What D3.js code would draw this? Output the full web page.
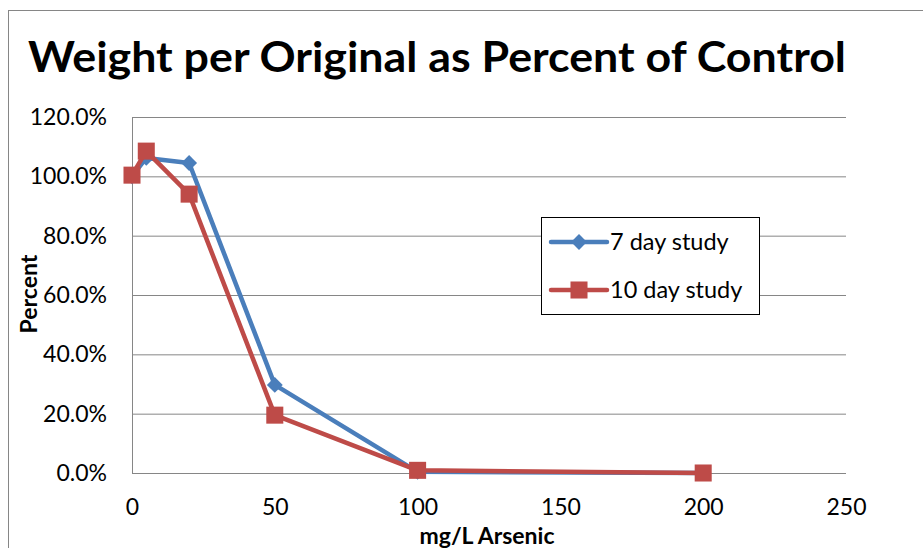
<!DOCTYPE html>
<html>
<head>
<meta charset="utf-8">
<script src="https://cdn.jsdelivr.net/npm/d3@7"></script>
<style>
  body { margin: 0; background: #fff; }
  svg { display: block; font-family: Lato, "Open Sans", sans-serif; }
</style>
</head>
<body>
<script>
// data
var doses = [0, 5, 20, 50, 100, 200];
var day7 = [1.00, 1.062, 1.045, 0.297, 0.004, 0.0];
var day10 = [1.004, 1.085, 0.94, 0.195, 0.009, 0.0];
var seriesNames = ["7 day study", "10 day study"];
var xTicks = [0, 50, 100, 150, 200, 250];
var yTicks = [0, 0.2, 0.4, 0.6, 0.8, 1.0, 1.2];

var W = 923, H = 548;
var margin = {top: 117, right: 77, bottom: 75, left: 132},
    width = W - margin.left - margin.right,
    height = H - margin.top - margin.bottom;

var svg = d3.select("body").append("svg")
    .attr("width", W)
    .attr("height", H);

// outer chart border
svg.append("rect")
    .attr("x", 8.5).attr("y", 10.5)
    .attr("width", 1000).attr("height", 1000)
    .attr("fill", "none")
    .attr("stroke", "#868686");

svg.append("text")
    .attr("x", 28)
    .attr("y", 72)
    .attr("font-size", "42px")
    .attr("font-weight", "bold")
    .attr("textLength", 818)
    .attr("lengthAdjust", "spacingAndGlyphs")
    .text("Weight per Original as Percent of Control");

var g = svg.append("g")
    .attr("transform", "translate(" + margin.left + "," + margin.top + ")");

var x = d3.scaleLinear().domain([0, 250]).range([0, width]);
var y = d3.scaleLinear().domain([0, 1.2]).range([height, 0]);

// gridlines + y labels
var yAxis = g.append("g")
    .call(d3.axisLeft(y)
        .tickValues(yTicks)
        .tickSize(-width)
        .tickPadding(25)
        .tickFormat(d3.format(".1%")));
yAxis.select(".domain").remove();
yAxis.selectAll("line").attr("stroke", "#868686");
yAxis.selectAll("text").attr("font-size", "23px").attr("fill", "#000")
    .attr("font-family", "Lato, sans-serif");

// left axis line
g.append("line")
    .attr("x1", 0.5).attr("x2", 0.5)
    .attr("y1", 0).attr("y2", height)
    .attr("stroke", "#868686");

var xAxis = g.append("g")
    .attr("transform", "translate(0," + height + ")")
    .call(d3.axisBottom(x)
        .tickValues(xTicks)
        .tickSize(0)
        .tickPadding(26));
xAxis.select(".domain").remove();
xAxis.selectAll("text").attr("font-size", "23px").attr("fill", "#000")
    .attr("font-family", "Lato, sans-serif");

svg.append("text")
    .attr("x", 487)
    .attr("y", 544)
    .attr("text-anchor", "middle")
    .attr("font-size", "23px")
    .attr("font-weight", "bold")
    .text("mg/L Arsenic");

svg.append("text")
    .attr("transform", "translate(37,294) rotate(-90)")
    .attr("text-anchor", "middle")
    .attr("font-size", "23px")
    .attr("font-weight", "bold")
    .text("Percent");

var colors = ["#4A7EBB", "#BE4B48"];
var line = d3.line()
    .x(function(d) { return x(d[0]); })
    .y(function(d) { return y(d[1]); });

var diamond = d3.symbol().type(d3.symbolDiamond2).size(160);
var square = d3.symbol().type(d3.symbolSquare).size(290);
var shapes = [diamond, square];

[day7, day10].forEach(function(vals, k) {
    var pts = doses.map(function(d, i) { return [d, vals[i]]; });
    g.append("path")
        .datum(pts)
        .attr("fill", "none")
        .attr("stroke", colors[k])
        .attr("stroke-width", 4.5)
        .attr("stroke-linejoin", "round")
        .attr("d", line);
    g.selectAll(".m" + k)
        .data(pts)
        .enter().append("path")
        .attr("class", "m" + k)
        .attr("transform", function(d) { return "translate(" + x(d[0]) + "," + y(d[1]) + ")"; })
        .attr("d", shapes[k])
        .attr("fill", colors[k]);
});

// legend
var lg = svg.append("g").attr("transform", "translate(541,217)");
lg.append("rect")
    .attr("x", 0.5).attr("y", 0.5)
    .attr("width", 218).attr("height", 97)
    .attr("fill", "#fff")
    .attr("stroke", "#000");
seriesNames.forEach(function(name, k) {
    var ly = 25 + k * 48;
    lg.append("line")
        .attr("x1", 10).attr("x2", 66)
        .attr("y1", ly).attr("y2", ly)
        .attr("stroke", colors[k])
        .attr("stroke-width", 4.5)
        .attr("stroke-linecap", "round");
    lg.append("path")
        .attr("transform", "translate(38," + ly + ")")
        .attr("d", shapes[k])
        .attr("fill", colors[k]);
    lg.append("text")
        .attr("x", 69)
        .attr("y", ly + 8)
        .attr("font-size", "23.5px")
        .text(name);
});
</script>
</body>
</html>
